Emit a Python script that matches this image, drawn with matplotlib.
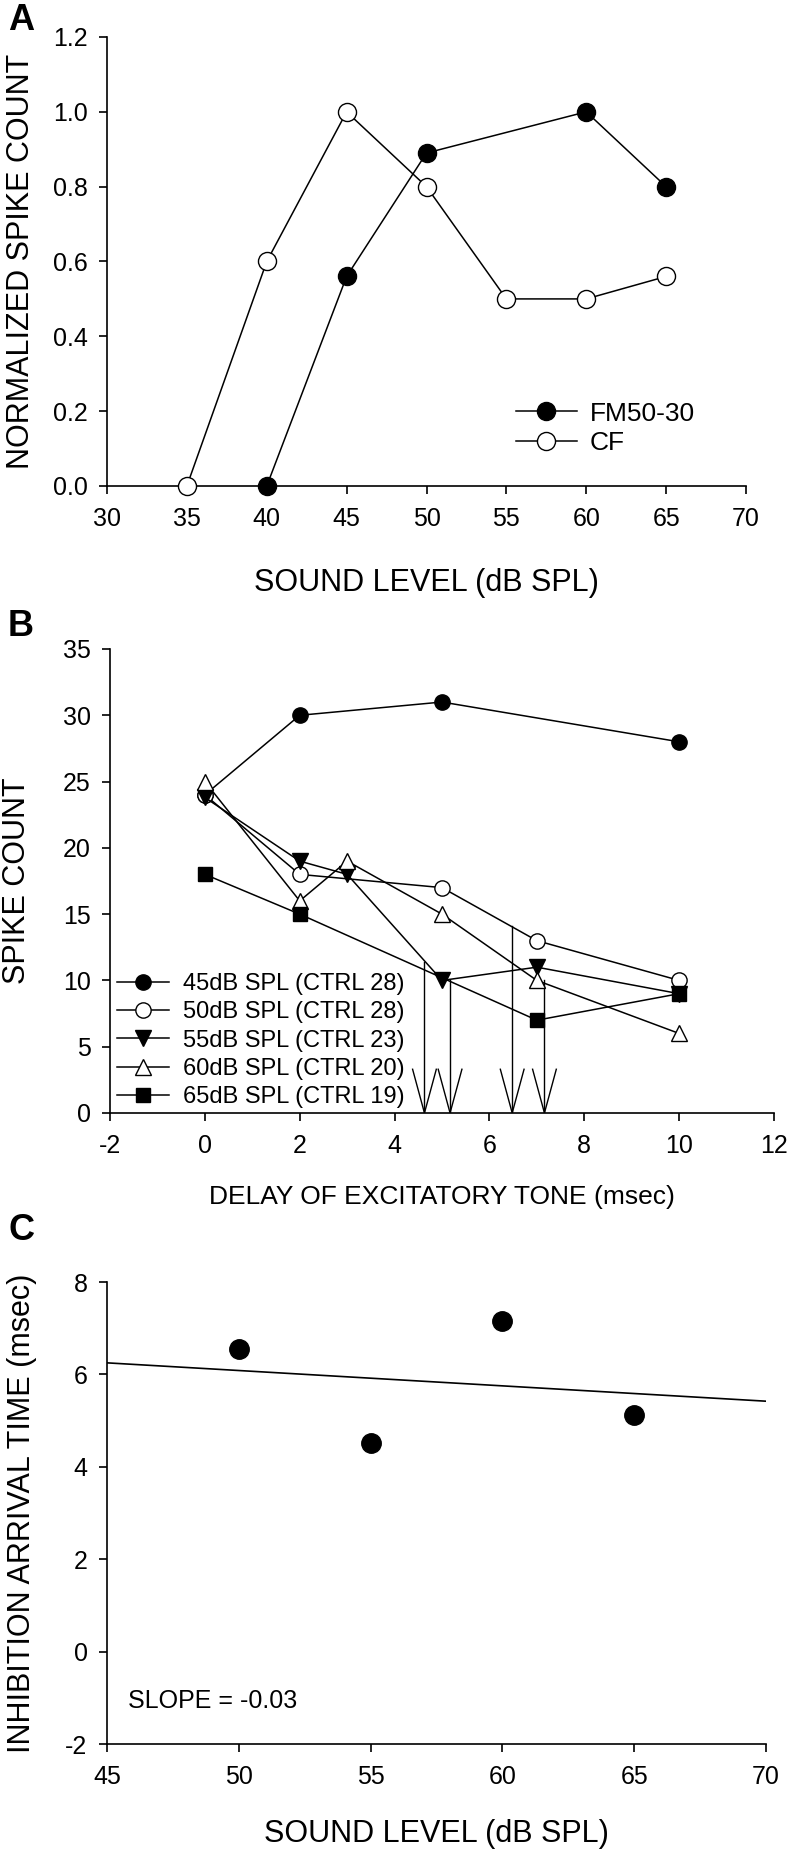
import numpy as np
import matplotlib
matplotlib.use("Agg")
import matplotlib.pyplot as plt

plt.rcParams['font.family'] = ['Liberation Sans', 'DejaVu Sans']
plt.rcParams['axes.unicode_minus'] = False

# ---------------- data ----------------
# Panel A
a_fm_x = [40, 45, 50, 60, 65]
a_fm_y = [0.0, 0.56, 0.89, 1.0, 0.8]
a_cf_x = [35, 40, 45, 50, 55, 60, 65]
a_cf_y = [0.0, 0.6, 1.0, 0.8, 0.5, 0.5, 0.56]

# Panel B
b_45_x = [0, 2, 5, 10]
b_45_y = [24, 30, 31, 28]
b_50_x = [0, 2, 5, 7, 10]
b_50_y = [24, 18, 17, 13, 10]
b_55_x = [0, 2, 3, 5, 7, 10]
b_55_y = [23.8, 19, 18, 10, 11, 9]
b_60_x = [0, 2, 3, 5, 7, 10]
b_60_y = [25, 16, 19, 15, 10, 6]
b_65_x = [0, 2, 7, 10]
b_65_y = [18, 15, 7, 9]
b_labels = ['45dB SPL (CTRL 28)', '50dB SPL (CTRL 28)', '55dB SPL (CTRL 23)',
            '60dB SPL (CTRL 20)', '65dB SPL (CTRL 19)']
arrow_x = [4.63, 5.17, 6.48, 7.16]
arrow_top = [11.4, 10.05, 14.1, 10.0]
arrow_head_len = 3.3
arrow_head_half = 0.25

# Panel C
c_x = [50, 55, 60, 65]
c_y = [6.55, 4.52, 7.15, 5.12]
slope_text = 'SLOPE = -0.03'

# ---------------- layout ----------------
W, H = 788, 1852
fig = plt.figure(figsize=(W / 100, H / 100), dpi=100)


def rect(l, r, t, b):
    return [l / W, 1 - b / H, (r - l) / W, (b - t) / H]


TICK = 18
LAB = 22


def style(ax):
    for s in ['top', 'right']:
        ax.spines[s].set_visible(False)
    for s in ['left', 'bottom']:
        ax.spines[s].set_linewidth(1.2)
    ax.tick_params(axis='both', direction='out', length=6, width=1.2,
                   labelsize=TICK)
    ax.tick_params(axis='y', pad=8)
    ax.tick_params(axis='x', pad=9)


# ---- Panel A ----
axA = fig.add_axes(rect(107, 746, 37, 486))
style(axA)
axA.plot(a_fm_x, a_fm_y, '-', color='black', lw=1.1, marker='o', ms=13,
         mfc='black', mec='black', mew=1.0, label='FM50-30', zorder=3,
         clip_on=False)
axA.plot(a_cf_x, a_cf_y, '-', color='black', lw=1.1, marker='o', ms=13,
         mfc='white', mec='black', mew=1.0, label='CF', zorder=3,
         clip_on=False)
axA.set_xlim(30, 70)
axA.set_ylim(0, 1.2)
axA.set_xticks(np.arange(30, 71, 5))
axA.set_yticks(np.arange(0, 1.21, 0.2))
axA.set_yticklabels([f'{v:.1f}' for v in np.arange(0, 1.21, 0.2)])
axA.set_xlabel('SOUND LEVEL (dB SPL)', fontsize=LAB)
axA.set_ylabel('NORMALIZED SPIKE COUNT', fontsize=LAB)
axA.xaxis.set_label_coords(0.5, -0.183)
axA.yaxis.set_label_coords(-0.111, 0.5)
axA.legend(loc='lower left', bbox_to_anchor=(0.64, 0.068), frameon=False,
           fontsize=19, handlelength=2.3, handletextpad=0.5,
           labelspacing=0.22, borderpad=0, borderaxespad=0)

# ---- Panel B ----
axB = fig.add_axes(rect(110, 774, 649, 1113))
style(axB)
series_b = [
    (b_45_x, b_45_y, 'o', 'black'),
    (b_50_x, b_50_y, 'o', 'white'),
    (b_55_x, b_55_y, 'v', 'black'),
    (b_60_x, b_60_y, '^', 'white'),
    (b_65_x, b_65_y, 's', 'black'),
]
for (xs, ys, mk, fc), lab in zip(series_b, b_labels):
    axB.plot(xs, ys, '-', color='black', lw=1.1, marker=mk,
             ms=11 if mk != 's' else 10, mfc=fc, mec='black', mew=1.0,
             label=lab, zorder=3, clip_on=False)
for xa, ta in zip(arrow_x, arrow_top):
    axB.plot([xa, xa], [0, ta], color='black', lw=1.0, zorder=2)
    axB.plot([xa - arrow_head_half, xa, xa + arrow_head_half],
             [arrow_head_len, 0, arrow_head_len], color='black', lw=1.0,
             zorder=2)
axB.set_xlim(-2, 12)
axB.set_ylim(0, 35)
axB.set_xticks(np.arange(-2, 13, 2))
axB.set_yticks(np.arange(0, 36, 5))
axB.set_xlabel('DELAY OF EXCITATORY TONE (msec)', fontsize=19)
axB.set_ylabel('SPIKE COUNT', fontsize=LAB)
axB.xaxis.set_label_coords(0.5, -0.156)
axB.yaxis.set_label_coords(-0.117, 0.5)
axB.legend(loc='lower left', bbox_to_anchor=(0.01, 0.01), frameon=False,
           fontsize=17, handlelength=2.2, handletextpad=0.6,
           labelspacing=0.27, borderpad=0, borderaxespad=0)

# ---- Panel C ----
axC = fig.add_axes(rect(107, 766, 1282, 1744))
style(axC)
coef = np.polyfit(c_x, c_y, 1)
fit_x = np.array([45, 70])
axC.plot(fit_x, np.polyval(coef, fit_x), color='black', lw=1.2)
axC.plot(c_x, c_y, 'o', color='black', ms=14, zorder=3)
axC.set_xlim(45, 70)
axC.set_ylim(-2, 8)
axC.set_xticks(np.arange(45, 71, 5))
axC.set_yticks(np.arange(-2, 9, 2))
axC.set_xlabel('SOUND LEVEL (dB SPL)', fontsize=LAB)
axC.set_ylabel('INHIBITION ARRIVAL TIME (msec)', fontsize=LAB)
axC.xaxis.set_label_coords(0.5, -0.162)
axC.yaxis.set_label_coords(-0.106, 0.5)
axC.text(45.8, -1.07, slope_text, fontsize=18, va='center', ha='left')

# panel letters
for lab, y in [('A', 20), ('B', 626), ('C', 1231)]:
    fig.text(8 / W, 1 - y / H, lab, fontsize=26, fontweight='bold',
             va='center', ha='left')

fig.savefig('out.png', dpi=100)
